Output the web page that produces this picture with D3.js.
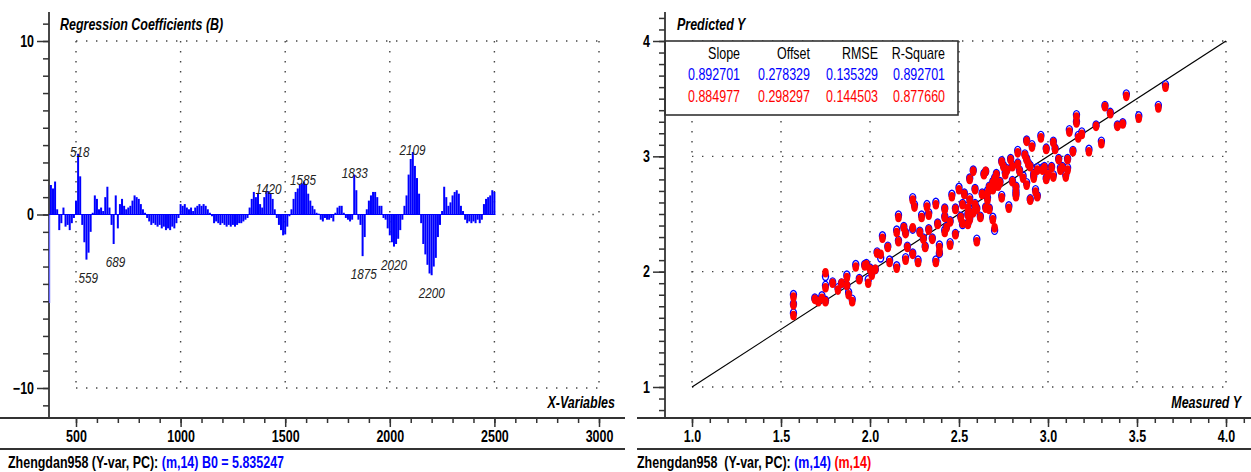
<!DOCTYPE html>
<html>
<head>
<meta charset="utf-8">
<script src="https://cdn.jsdelivr.net/npm/d3@7"></script>
<style>
  body { margin: 0; background: #fff; }
  svg text { font-family: "Liberation Sans", Arial, sans-serif; }
</style>
</head>
<body>
<svg id="chart" width="1251" height="472"></svg>
<script>
// ---- left panel: regression coefficients, 370..2500 nm every 10 nm
const coefStart = 370;
const coefStep = 10;
const coefficients = [
  -5.1, 1.7, 1.5,
  1.9, 0.3, -0.9, -0.5, 0.4, -0.7, -0.6, -0.9, -0.5, -0.2,
  0.8, 3.5, 2.2, -0.6, -1.6, -2.6, -2.2, -1.0, 0.1, 1.1,
  0.9, 0.3, 0.4, 0.2, 1.0, 1.6, 0.4, -0.6, -1.7, 1.1,
  -0.8, 0.6, 0.9, 0.5, 0.3, 0.4, 0.5, 0.8, 1.1, 1.0,
  0.9, 0.6, 0.3, 0.1, -0.2, -0.4, -0.6, -0.5, -0.6, -0.7,
  -0.6, -0.8, -0.7, -0.9, -0.8, -0.9, -0.7, -0.8, -0.5, -0.2,
  0.6, 0.5, 0.6, 0.4, 0.3, 0.4, 0.2, 0.4, 0.5, 0.6,
  0.5, 0.6, 0.5, 0.3, 0.1, -0.1, -0.5, -0.4, -0.5, -0.6,
  -0.5, -0.6, -0.7, -0.6, -0.7, -0.6, -0.7, -0.6, -0.5, -0.5,
  -0.4, -0.3, -0.2, 0.4, 0.9, 1.3, 1.0, 1.2, 0.6, 0.4,
  1.0, 1.3, 1.35, 1.2, 0.9, 0.3, -0.2, -0.6, -0.9, -1.2,
  -1.15, -0.7, -0.1, 0.3, 0.9, 1.3, 1.5, 1.7, 1.8, 1.9,
  1.7, 1.2, 0.8, 0.5, 0.3, 0.1, 0.05, -0.3, -0.4, -0.2,
  -0.3, -0.3, -0.2, -0.4, 0.1, 0.4, 0.5, 0.5, 0.1, -0.2,
  -0.3, -0.4, -0.3, 2.3, 1.4, -0.3, -0.6, -2.4, -1.3, 0.3,
  0.8, 1.1, 1.3, 1.3, 1.0, 0.5, 0.5, -0.2, -0.3, -0.8,
  -1.2, -1.6, -1.85, -1.7, -1.4, -0.9, -0.3, 0.5, 1.1, 2.3,
  3.2, 3.6, 2.8, 2.1, 1.2, -0.5, -1.7, -2.3, -2.9, -3.4,
  -3.5, -3.0, -2.5, -1.3, -0.6, 0.2, 1.6, 1.0, 0.5, 0.7,
  1.1, 1.3, 1.4, 1.2, 0.5, 0.2, -0.3, -0.5, -0.4, -0.5,
  -0.4, -0.5, -0.3, -0.5, -0.3, 0.6, 0.9, 1.0, 1.1, 1.4,
  1.3
];
const peakWavelengths = [518, 559, 689, 1420, 1585, 1833, 1875, 2020, 2109, 2200];
const peakValues = [3.5, -2.6, -1.7, 1.35, 1.9, 2.3, -2.4, -1.85, 3.6, -3.5];

const xTicksLeft = [500, 1000, 1500, 2000, 2500, 3000];
const yTicksLeft = [-10, 0, 10];

// ---- right panel: measured vs predicted
const measured = [
  1.57, 1.57, 1.57, 1.69, 1.71, 1.73, 1.75, 1.75, 1.75, 1.79,
  1.82, 1.84, 1.87, 1.87, 1.88, 1.90, 1.92, 1.97, 1.98, 2.00,
  1.99, 2.03, 2.06, 2.04, 2.10, 2.07, 2.15, 2.16, 2.15, 2.16,
  2.20, 2.24, 2.19, 2.20, 2.24, 2.24, 2.25, 2.28, 2.29, 2.30,
  2.31, 2.32, 2.33, 2.33, 2.37, 2.39, 2.39, 2.38, 2.42, 2.43,
  2.42, 2.45, 2.46, 2.48, 2.51, 2.50, 2.52, 2.55, 2.56, 2.55,
  2.56, 2.58, 2.59, 2.60, 2.62, 2.60, 2.56, 2.58, 2.64, 2.65,
  2.66, 2.66, 2.67, 2.69, 2.69, 2.69, 2.70, 2.70, 2.71, 2.72,
  2.74, 2.75, 2.76, 2.77, 2.74, 2.78, 2.79, 2.80, 2.82, 2.82,
  2.83, 2.84, 2.86, 2.87, 2.88, 2.89, 2.88, 2.88, 2.90, 2.92,
  2.94, 2.91, 2.93, 2.94, 2.96, 2.97, 2.99, 3.00, 2.99, 3.02,
  3.03, 3.03, 3.04, 3.06, 3.07, 3.08, 3.10, 3.11, 3.11, 3.12,
  3.14, 3.16, 3.16, 3.17, 3.19, 3.23, 3.27, 3.30, 3.32, 3.35,
  3.39, 3.42, 3.44, 3.51, 3.62, 3.66, 2.48, 2.52, 2.53, 2.55,
  2.63, 2.65, 2.67, 2.73, 2.80, 2.82, 2.83, 2.90, 2.92, 2.98,
  2.35, 2.27, 2.21, 2.11, 2.01, 1.94, 2.37, 2.42, 2.45, 2.59
];
// blue: calibration prediction
const predictedCal = [
  1.80, 1.72, 1.64, 1.77, 1.75, 1.79, 1.75, 1.96, 1.88, 1.91,
  1.86, 1.90, 1.97, 1.88, 1.82, 1.76, 2.06, 2.06, 2.07, 2.03,
  1.93, 2.02, 2.12, 2.17, 2.22, 2.31, 2.05, 2.27, 2.36, 2.49,
  2.12, 2.16, 2.39, 2.34, 2.37, 2.64, 2.58, 2.35, 2.49, 2.29,
  2.22, 2.58, 2.51, 2.37, 2.60, 2.23, 2.16, 2.42, 2.36, 2.39,
  2.55, 2.25, 2.67, 2.55, 2.48, 2.73, 2.41, 2.42, 2.46, 2.57,
  2.64, 2.52, 2.59, 2.55, 2.48, 2.28, 2.81, 2.88, 2.85, 2.87,
  2.64, 2.70, 2.74, 2.78, 2.72, 2.47, 2.36, 2.81, 2.85, 2.75,
  2.96, 2.92, 2.86, 2.89, 2.66, 2.57, 2.98, 2.92, 2.74, 2.67,
  3.05, 2.88, 2.83, 3.02, 2.98, 2.94, 3.14, 2.77, 2.92, 2.85,
  2.90, 3.10, 2.71, 2.66, 3.18, 2.90, 2.81, 2.85, 3.07, 2.91,
  2.84, 3.13, 3.07, 2.98, 2.90, 2.91, 2.84, 2.90, 2.98, 3.23,
  3.05, 3.36, 3.30, 3.18, 3.21, 3.06, 3.27, 3.13, 3.44, 3.38,
  3.27, 3.29, 3.54, 3.35, 3.44, 3.62, 2.33, 2.59, 2.68, 2.50,
  2.68, 2.56, 2.55, 2.78, 2.79, 2.70, 2.94, 2.63, 2.83, 2.91,
  2.29, 2.10, 2.22, 2.10, 1.99, 1.94, 2.10, 2.48, 2.44, 2.72
];
// red: validation prediction
const predictedVal = [
  1.78, 1.71, 1.62, 1.76, 1.74, 1.77, 1.74, 1.99, 1.86, 1.90,
  1.84, 1.90, 1.95, 1.88, 1.80, 1.74, 2.04, 2.05, 2.06, 2.02,
  1.90, 2.02, 2.15, 2.16, 2.21, 2.29, 2.03, 2.26, 2.34, 2.47,
  2.10, 2.15, 2.38, 2.33, 2.38, 2.62, 2.56, 2.34, 2.47, 2.28,
  2.21, 2.56, 2.49, 2.36, 2.58, 2.21, 2.17, 2.41, 2.34, 2.38,
  2.54, 2.23, 2.65, 2.54, 2.47, 2.71, 2.42, 2.41, 2.45, 2.55,
  2.62, 2.51, 2.58, 2.54, 2.47, 2.26, 2.80, 2.87, 2.84, 2.87,
  2.62, 2.68, 2.73, 2.77, 2.71, 2.45, 2.38, 2.80, 2.84, 2.74,
  2.95, 2.91, 2.84, 2.88, 2.64, 2.55, 2.97, 2.91, 2.73, 2.65,
  3.03, 2.87, 2.81, 3.01, 2.97, 2.93, 3.13, 2.75, 2.91, 2.84,
  2.88, 3.08, 2.69, 2.65, 3.16, 2.88, 2.80, 2.84, 3.06, 2.90,
  2.82, 3.12, 3.06, 2.97, 2.88, 2.90, 2.82, 2.88, 2.97, 3.21,
  3.04, 3.34, 3.29, 3.16, 3.19, 3.04, 3.26, 3.11, 3.43, 3.37,
  3.26, 3.28, 3.52, 3.33, 3.42, 3.60, 2.32, 2.58, 2.67, 2.49,
  2.67, 2.55, 2.54, 2.77, 2.78, 2.68, 2.93, 2.62, 2.81, 2.90,
  2.28, 2.08, 2.21, 2.08, 1.97, 1.93, 2.08, 2.47, 2.43, 2.71
];
const xTicksRight = [1.0, 1.5, 2.0, 2.5, 3.0, 3.5, 4.0];
const yTicksRight = [1, 2, 3, 4];

const statsHeader = ["Slope", "Offset", "RMSE", "R-Square"];
const statsCal = ["0.892701", "0.278329", "0.135329", "0.892701"];
const statsVal = ["0.884977", "0.298297", "0.144503", "0.877660"];

const BLUE = "#0000ff";
const RED = "#ff0000";
const AXIS = "#333";
const NARROW = 0.78;

const svg = d3.select("#chart");

function dotted(g, x1, y1, x2, y2) {
  g.append("line")
    .attr("x1", x1).attr("y1", y1).attr("x2", x2).attr("y2", y2)
    .attr("stroke", "#444")
    .attr("stroke-width", 1.4)
    .attr("stroke-dasharray", "1.4,8.6");
}

function styleAxis(g) {
  g.select(".domain").remove();
  g.selectAll("line").attr("stroke", AXIS).attr("stroke-width", 1.5);
  g.selectAll("text")
    .attr("fill", "#000")
    .style("font-size", "16px")
    .style("font-weight", "bold");
}

function hline(g, x1, x2, y) {
  g.append("line").attr("x1", x1).attr("x2", x2).attr("y1", y).attr("y2", y)
    .attr("stroke", AXIS).attr("stroke-width", 1.8);
}
function vline(g, x, y1, y2) {
  g.append("line").attr("x1", x).attr("x2", x).attr("y1", y1).attr("y2", y2)
    .attr("stroke", AXIS).attr("stroke-width", 1.8);
}

// ============ LEFT PANEL ============
const xL = d3.scaleLinear().domain([500, 3000]).range([76, 599]);
const yL = d3.scaleLinear().domain([-10, 10]).range([388, 41]);
const left = svg.append("g");
const axisXL = 49, axisYB = 418, leftEnd = 625;

// grid
xTicksLeft.forEach(t => dotted(left, xL(t), yL(10), xL(t), yL(-10)));
dotted(left, xL(500), yL(10), xL(3000), yL(10));
dotted(left, xL(500), yL(-10), xL(3000), yL(-10));
dotted(left, xL(2500) + 8, yL(0), xL(3000), yL(0));

vline(left, axisXL, 12, axisYB);
hline(left, 0, leftEnd, axisYB);
hline(left, 0, leftEnd, 449);

// coefficient bars
const bars = coefficients.map((v, i) => ({ wl: coefStart + i * coefStep, v }));
left.append("g").selectAll("rect")
  .data(bars)
  .join("rect")
  .attr("x", d => xL(d.wl) - (d.wl === coefStart ? 0 : 1))
  .attr("width", d => d.wl === coefStart ? 1.4 : 2)
  .attr("y", d => Math.min(yL(d.v), yL(0)))
  .attr("height", d => Math.abs(yL(d.v) - yL(0)))
  .attr("fill", d => d.wl === coefStart ? "#6a6aff" : BLUE);
left.append("line")
  .attr("x1", xL(coefStart)).attr("x2", xL(2505))
  .attr("y1", yL(0)).attr("y2", yL(0))
  .attr("stroke", BLUE).attr("stroke-width", 1.2);

// peak labels
left.append("g").selectAll("text")
  .data(peakWavelengths.map((w, i) => ({ w, v: peakValues[i] })))
  .join("text")
  .attr("x", d => xL(d.w))
  .attr("y", d => yL(d.v) + (d.v > 0 ? 3 : 23))
  .attr("text-anchor", "middle")
  .attr("fill", "#222")
  .style("font-size", "15px")
  .style("font-style", "italic")
  .text(d => d.w);

// axes ticks
left.append("g").attr("transform", `translate(${axisXL},0)`)
  .call(d3.axisLeft(yL).tickValues(d3.range(-11, 12)).tickSize(6).tickFormat(""))
  .call(styleAxis);
left.append("g").attr("transform", `translate(${axisXL},0)`)
  .call(d3.axisLeft(yL).tickValues(yTicksLeft).tickSize(12).tickPadding(3).tickFormat(d3.format("d")))
  .call(styleAxis);
left.append("g").attr("transform", `translate(0,${axisYB})`)
  .call(d3.axisBottom(xL).tickValues(d3.range(500, 3100, 100)).tickSize(5).tickFormat(""))
  .call(styleAxis);
left.append("g").attr("transform", `translate(0,${axisYB})`)
  .call(d3.axisBottom(xL).tickValues(xTicksLeft).tickSize(9).tickPadding(4).tickFormat(d3.format("d")))
  .call(styleAxis);

left.append("text").attr("x", 60).attr("y", 30)
  .style("font-size", "16px").style("font-weight", "bold").style("font-style", "italic")
  .text("Regression Coefficients (B)");
left.append("text").attr("x", 615).attr("y", 408).attr("text-anchor", "end")
  .style("font-size", "16px").style("font-weight", "bold").style("font-style", "italic")
  .text("X-Variables");

const footL = left.append("text").attr("x", 8).attr("y", 468)
  .style("font-size", "16px").style("font-weight", "bold").attr("xml:space", "preserve");
footL.append("tspan").attr("fill", "#000").text("Zhengdan958 (Y-var, PC): ");
footL.append("tspan").attr("fill", BLUE).text("(m,14) B0 = 5.835247");

// ============ RIGHT PANEL ============
const xR = d3.scaleLinear().domain([1, 4]).range([692, 1226]);
const yR = d3.scaleLinear().domain([1, 4]).range([387, 41]);
const right = svg.append("g");
const axisXR = 665, rightStart = 637;

xTicksRight.forEach(t => dotted(right, xR(t), yR(4), xR(t), yR(1)));
yTicksRight.forEach(t => dotted(right, xR(1), yR(t), xR(4), yR(t)));

// 1:1 target line
right.append("line")
  .attr("x1", xR(1)).attr("y1", yR(1)).attr("x2", xR(4)).attr("y2", yR(4))
  .attr("stroke", "#000").attr("stroke-width", 1.2);

const pts = measured.map((m, i) => ({ m, c: predictedCal[i], v: predictedVal[i] }));
right.append("g").selectAll("ellipse")
  .data(pts)
  .join("ellipse")
  .attr("cx", d => xR(d.m)).attr("cy", d => yR(d.c))
  .attr("rx", 3).attr("ry", 4.2)
  .attr("fill", "none").attr("stroke", BLUE).attr("stroke-width", 1.4);
right.append("g").selectAll("ellipse")
  .data(pts)
  .join("ellipse")
  .attr("cx", d => xR(d.m)).attr("cy", d => yR(d.v))
  .attr("rx", 3.3).attr("ry", 4.8)
  .attr("fill", RED);

// stats box
const box = right.append("g");
box.append("rect").attr("x", axisXR).attr("y", yR(4)).attr("width", 958 - axisXR).attr("height", 115 - yR(4))
  .attr("fill", "#fff").attr("stroke", AXIS).attr("stroke-width", 1.6);
const colRight = [740, 810, 878, 945];
[[statsHeader, "#000", 59], [statsCal, BLUE, 80], [statsVal, RED, 102]].forEach(([row, col, y]) => {
  row.forEach((s, j) => {
    box.append("text").attr("x", colRight[j]).attr("y", y).attr("text-anchor", "end")
      .attr("fill", col).style("font-size", "16px").text(s);
  });
});

vline(right, axisXR, 12, axisYB);
hline(right, rightStart, 1251, axisYB);
hline(right, rightStart, 1251, 449);

right.append("g").attr("transform", `translate(${axisXR},0)`)
  .call(d3.axisLeft(yR).tickValues(d3.range(0.8, 4.25, 0.1)).tickSize(6).tickFormat(""))
  .call(styleAxis);
right.append("g").attr("transform", `translate(${axisXR},0)`)
  .call(d3.axisLeft(yR).tickValues(yTicksRight).tickSize(12).tickPadding(3).tickFormat(d3.format("d")))
  .call(styleAxis);
right.append("g").attr("transform", `translate(0,${axisYB})`)
  .call(d3.axisBottom(xR).tickValues(d3.range(1, 4.15, 0.1)).tickSize(5).tickFormat(""))
  .call(styleAxis);
right.append("g").attr("transform", `translate(0,${axisYB})`)
  .call(d3.axisBottom(xR).tickValues(xTicksRight).tickSize(9).tickPadding(4).tickFormat(d3.format(".1f")))
  .call(styleAxis);

right.append("text").attr("x", 677).attr("y", 30)
  .style("font-size", "16px").style("font-weight", "bold").style("font-style", "italic")
  .text("Predicted Y");
right.append("text").attr("x", 1241).attr("y", 408).attr("text-anchor", "end")
  .style("font-size", "16px").style("font-weight", "bold").style("font-style", "italic")
  .text("Measured Y");

const footR = right.append("text").attr("x", 637).attr("y", 468)
  .style("font-size", "16px").style("font-weight", "bold").attr("xml:space", "preserve");
footR.append("tspan").attr("fill", "#000").text("Zhengdan958  (Y-var, PC): ");
footR.append("tspan").attr("fill", BLUE).text("(m,14)");
footR.append("tspan").attr("fill", "#000").text(" ");
footR.append("tspan").attr("fill", RED).text("(m,14)");

// narrow the glyphs, like the condensed system font of the original:
// squeeze each text horizontally around its own anchor x
svg.selectAll("text").each(function () {
  const t = d3.select(this);
  const x = +(t.attr("x") || 0);
  t.attr("x", x / NARROW).attr("transform", `scale(${NARROW},1)`);
});
</script>
</body>
</html>
